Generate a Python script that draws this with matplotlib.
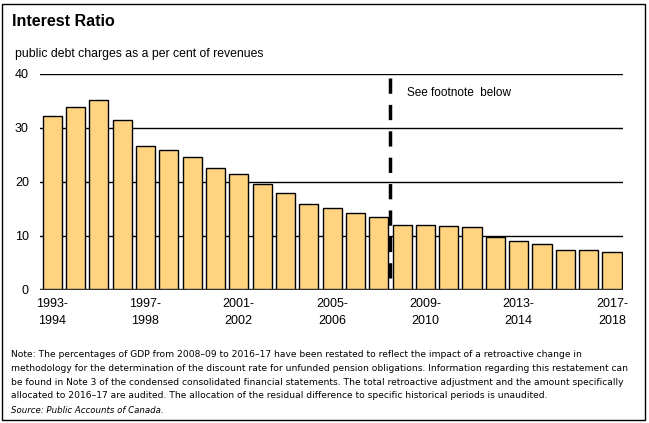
import matplotlib
matplotlib.use("Agg")
import matplotlib.pyplot as plt
from matplotlib.patches import Rectangle

years = ["1993-\n1994", "1994-\n1995", "1995-\n1996", "1996-\n1997", "1997-\n1998",
         "1998-\n1999", "1999-\n2000", "2000-\n2001", "2001-\n2002", "2002-\n2003",
         "2003-\n2004", "2004-\n2005", "2005-\n2006", "2006-\n2007", "2007-\n2008",
         "2008-\n2009", "2009-\n2010", "2010-\n2011", "2011-\n2012", "2012-\n2013",
         "2013-\n2014", "2014-\n2015", "2015-\n2016", "2016-\n2017", "2017-\n2018"]
values = [32.3, 33.8, 35.1, 31.4, 26.6, 26.0, 24.6, 22.5, 21.4, 19.6,
          17.9, 15.9, 15.1, 14.2, 13.5, 12.0, 12.0, 11.8, 11.6, 9.9,
          9.0, 8.5, 7.35, 7.35, 7.0]
yticks = [0, 10, 20, 30, 40]
title = "Interest Ratio"
subtitle = "public debt charges as a per cent of revenues"
annotation = "See footnote  below"
note = ("Note: The percentages of GDP from 2008\u201309 to 2016\u201317 have been restated to reflect the impact of a retroactive change in\n"
        "methodology for the determination of the discount rate for unfunded pension obligations. Information regarding this restatement can\n"
        "be found in Note 3 of the condensed consolidated financial statements. The total retroactive adjustment and the amount specifically\n"
        "allocated to 2016\u201317 are audited. The allocation of the residual difference to specific historical periods is unaudited.")
source = "Source: Public Accounts of Canada."

W, H = 649, 423
fig = plt.figure(figsize=(W / 100, H / 100), dpi=100)

# outer frame
fig.patches.append(Rectangle((2 / W, 3 / H), 643 / W, 416 / H, transform=fig.transFigure,
                             fill=False, edgecolor="black", linewidth=1.0))

ax = fig.add_axes([40 / W, (H - 290) / H, 583 / W, 216 / H])
x = list(range(len(values)))
ax.bar(x, values, width=0.82, color="#FFD37F", edgecolor="black", linewidth=1.0, zorder=3)
for yt in yticks[1:]:
    ax.axhline(yt, color="black", linewidth=1.0, zorder=1)
ax.axhline(0, color="#333333", linewidth=2.5, zorder=4)
ax.set_xlim(-0.52, len(values) - 0.53)
ax.set_ylim(0, 40)
for s in ax.spines.values():
    s.set_visible(False)
ax.set_yticks(yticks)
ax.set_yticklabels([str(v) for v in yticks], fontfamily="Liberation Sans", fontsize=9)
ax.tick_params(axis="y", length=0, pad=8)
ax.set_xticks(x[::4])
ax.set_xticklabels(years[::4], fontfamily="Liberation Sans", fontsize=9, linespacing=1.55)
ax.tick_params(axis="x", length=0, pad=6)

ax.plot([14.5, 14.5], [39.2, 0], color="black", linewidth=2.5, linestyle=(0, (4.4, 3.2)), zorder=5)
ax.text(15.2, 36.5, annotation, fontfamily="Liberation Sans", fontsize=8.5, va="center", ha="left")

fig.text(12 / W, 1 - 22 / H, title, fontfamily="Liberation Sans", fontsize=11.5, fontweight="bold", va="center", ha="left")
fig.text(15 / W, 1 - 54 / H, subtitle, fontfamily="Liberation Sans", fontsize=8.8, va="center", ha="left")
fig.text(11 / W, 1 - 350 / H, note, fontfamily="DejaVu Sans", fontsize=6.62, va="top", ha="left", linespacing=1.68)
fig.text(11 / W, 1 - 410 / H, source, fontfamily="DejaVu Sans", fontsize=6.2, style="italic", va="center", ha="left")

fig.savefig("out.png", dpi=100)
